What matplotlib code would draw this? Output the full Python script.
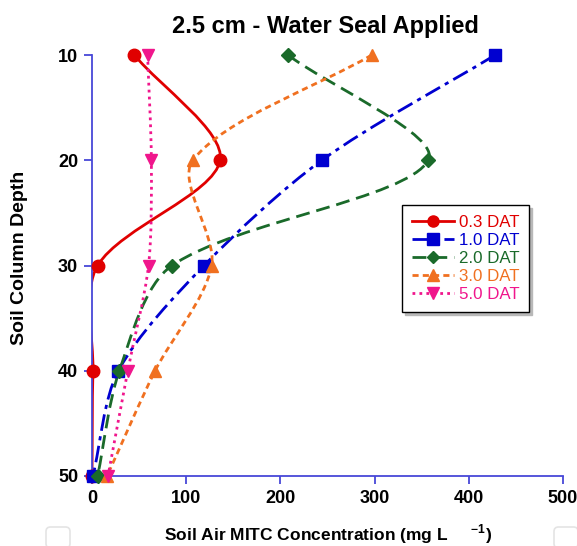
import numpy as np
import matplotlib
matplotlib.use('Agg')
import matplotlib.pyplot as plt
from matplotlib.path import Path
from matplotlib.patches import PathPatch, FancyBboxPatch
from matplotlib.lines import Line2D

plt.rcParams['font.family'] = ['Liberation Sans', 'DejaVu Sans']
plt.rcParams['mathtext.fontset'] = 'custom'
plt.rcParams['mathtext.bf'] = 'Liberation Sans:bold'
plt.rcParams['mathtext.rm'] = 'Liberation Sans:bold'

# data
depth = [10, 20, 30, 40, 50]
dat_03 = [45, 136, 6, 1, 0]
dat_10 = [428, 244, 119, 28, 1]
dat_20 = [208, 357, 85, 29, 6]
dat_30 = [297, 107, 127, 67, 16]
dat_50 = [59, 63, 60, 38, 17]
labels = ['0.3 DAT', '1.0 DAT', '2.0 DAT', '3.0 DAT', '5.0 DAT']

series = [dat_03, dat_10, dat_20, dat_30, dat_50]
colors = ['#e00000', '#0000d0', '#1a6a2a', '#f07020', '#f0168c']
styles = ['-', (0, (6, 2, 1.5, 2)), (0, (5, 2.5)), (0, (2.2, 1.5)), (0, (1, 1.5))]
markers = ['o', 's', 'D', '^', 'v']
msizes = [9, 9, 7, 9, 9]

fig = plt.figure(figsize=(5.77, 5.46), dpi=100)
ax = fig.add_axes([92 / 577, 1 - 476 / 546, 471 / 577, 421 / 546])
ax.set_xlim(0, 500)
ax.set_ylim(50, 10)


def smooth_path(xs, ys, tension=0.3):
    # smoothed line like the spreadsheet one: bezier segments,
    # tangents weighted by the on-screen segment lengths
    p = np.column_stack([xs, ys]).astype(float)
    d = ax.transData.transform(p)
    seg = np.hypot(*np.diff(d, axis=0).T)
    n = len(p)
    c_out, c_in = [], []
    for k in range(n):
        prev_p = p[k - 1] if k > 0 else p[k]
        next_p = p[k + 1] if k < n - 1 else p[k]
        tan = next_p - prev_p
        l_in = seg[k - 1] if k > 0 else 0
        l_out = seg[k] if k < n - 1 else 0
        tot = l_in + l_out
        c_out.append(p[k] + tan * tension * l_out / tot)
        c_in.append(p[k] - tan * tension * l_in / tot)
    verts = [p[0]]
    codes = [Path.MOVETO]
    for i in range(n - 1):
        verts += [c_out[i], c_in[i + 1], p[i + 1]]
        codes += [Path.CURVE4] * 3
    return Path(verts, codes)


axis_blue = '#4848d8'
handles = []
for vals, c, ls, m, ms, lab in zip(series, colors, styles, markers, msizes, labels):
    patch = PathPatch(smooth_path(vals, depth), fill=False, edgecolor=c,
                      linewidth=2, linestyle=ls, capstyle='butt', zorder=2)
    ax.add_patch(patch)
    ax.plot(vals, depth, linestyle='none', marker=m, markersize=ms,
            color=c, clip_on=False, zorder=3)
    handles.append(Line2D([], [], color=c, linewidth=2, linestyle=ls,
                          marker=m, markersize=ms - 1, label=lab))

ax.set_xticks([0, 100, 200, 300, 400, 500])
ax.set_yticks(depth)
for s in ['top', 'right']:
    ax.spines[s].set_visible(False)
for s in ['left', 'bottom']:
    ax.spines[s].set_color(axis_blue)
    ax.spines[s].set_linewidth(1.3)
ax.tick_params(colors=axis_blue, width=1.3, length=6, labelcolor='black',
               labelsize=13, pad=4)
for t in ax.get_xticklabels() + ax.get_yticklabels():
    t.set_fontweight('bold')

leg = ax.legend(handles=handles, loc='upper left', bbox_to_anchor=(0.658, 0.644),
                frameon=True, fancybox=False, fontsize=12.2, handlelength=2.45,
                handletextpad=0.3, borderpad=0.6, labelspacing=0.17,
                borderaxespad=0, shadow={'color': '#b8b8b8', 'alpha': 1})
leg.get_frame().set_edgecolor('black')
leg.get_frame().set_linewidth(1)
for t, c in zip(leg.get_texts(), colors):
    t.set_color(c)

fig.text(325 / 577, 1 - 27 / 546, '2.5 cm - Water Seal Applied', ha='center',
         va='center', fontsize=17, fontweight='bold')
fig.text(20 / 577, 1 - 258 / 546, 'Soil Column Depth', rotation=90, ha='center',
         va='center', fontsize=14, fontweight='bold')
fig.text(328 / 577, 1 - 534 / 546,
         r'Soil Air MITC Concentration (mg L$^{\quad\quad\mathbf{-1}}$)',
         ha='center', va='center', fontsize=12.5, fontweight='bold')

# faint boxes at the bottom edge
for x0 in [46, 554]:
    fig.patches.append(FancyBboxPatch((x0 / 577, -2 / 546), 24 / 577, 21 / 546,
                                      boxstyle='round,pad=0,rounding_size=0.008',
                                      transform=fig.transFigure, fill=False,
                                      edgecolor='#e4e4e4', linewidth=1.2))

fig.savefig('out.png', dpi=100)
